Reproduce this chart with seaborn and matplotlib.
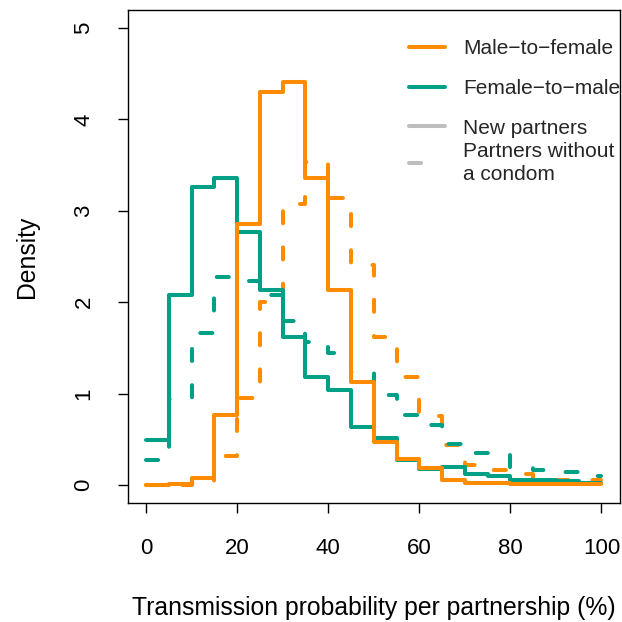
import numpy as np
import pandas as pd
import matplotlib
matplotlib.use("Agg")
import matplotlib.pyplot as plt
from matplotlib.lines import Line2D
import seaborn as sns

# Histogram bins (transmission probability, %)
bin_edges = [0, 5, 10, 15, 20, 25, 30, 35, 40, 45, 50,
             55, 60, 65, 70, 75, 80, 85, 90, 95, 100]

# Density per bin for each direction / partnership type
mtf_new = [0.00, 0.01, 0.08, 0.77, 2.86, 4.30, 4.41, 3.36, 2.13, 1.13,
           0.47, 0.29, 0.19, 0.06, 0.025, 0.02, 0.01, 0.01, 0.01, 0.01]
mtf_nocondom = [0.00, 0.00, 0.02, 0.32, 0.95, 2.00, 3.07, 3.53, 3.14, 2.41,
                1.62, 1.18, 0.75, 0.44, 0.22, 0.16, 0.12, 0.06, 0.05, 0.05]
ftm_new = [0.49, 2.08, 3.26, 3.36, 2.77, 2.13, 1.62, 1.18, 1.04, 0.64,
           0.51, 0.27, 0.18, 0.20, 0.12, 0.10, 0.055, 0.05, 0.04, 0.02]
ftm_nocondom = [0.27, 0.94, 1.66, 2.28, 2.23, 2.08, 1.80, 1.56, 1.44, 1.24,
                0.98, 0.77, 0.66, 0.45, 0.35, 0.35, 0.20, 0.17, 0.145, 0.10]

x_ticks = [0, 20, 40, 60, 80, 100]
y_ticks = [0, 1, 2, 3, 4, 5]

legend_labels = ["Male\u2212to\u2212female", "Female\u2212to\u2212male",
                 "New partners", "Partners without\na condom"]

ORANGE = "#FF8C00"
GREEN = "#00A087"
GREY = "#BEBEBE"

sns.set_theme(style="white")
plt.rcParams["font.family"] = ["Liberation Sans", "DejaVu Sans"]

fig = plt.figure(figsize=(6.22, 6.22), dpi=100)
ax = fig.add_axes([0.2055, 0.1908, 0.7908, 0.7936])

centers = (np.array(bin_edges[:-1]) + np.array(bin_edges[1:])) / 2
lw = 2.9
dash = (3, 6)

series = [
    (mtf_nocondom, ORANGE, True),
    (ftm_nocondom, GREEN, True),
    (ftm_new, GREEN, False),
    (mtf_new, ORANGE, False),
]
for vals, col, dashed in series:
    df = pd.DataFrame({"x": centers, "w": vals})
    kw = dict(linewidth=lw, solid_capstyle="round", solid_joinstyle="round",
              dash_capstyle="round", dash_joinstyle="round")
    if dashed:
        kw["dashes"] = dash
    sns.histplot(data=df, x="x", weights="w", bins=bin_edges, stat="count",
                 element="step", fill=False, color=col, ax=ax, **kw)

ax.set_xlim(-4, 104)
ax.set_ylim(-0.2, 5.2)
ax.set_xticks(x_ticks)
ax.set_yticks(y_ticks)
ax.set_xticklabels([str(v) for v in x_ticks], fontsize=16)
ax.set_yticklabels([str(v) for v in y_ticks], fontsize=16, rotation=90,
                   va="center")
ax.tick_params(axis="both", direction="out", length=7, width=1,
               color="black", labelcolor="black", bottom=True, left=True)
ax.tick_params(axis="x", pad=18)
ax.tick_params(axis="y", pad=17)

for s in ax.spines.values():
    s.set_visible(True)
    s.set_color("black")
    s.set_linewidth(1.0)

ax.set_xlabel("Transmission probability per partnership (%)", fontsize=17.8,
              color="black")
ax.set_ylabel("Density", fontsize=17.8, color="black")
ax.xaxis.set_label_coords(0.5005, -0.1875)
ax.yaxis.set_label_coords(-0.1815, 0.5)

# Legend: colour key and line-type key
leg_kw = dict(frameon=False, fontsize=15, handlelength=1.73,
              handletextpad=0.85, borderaxespad=0.0, borderpad=0.0)
handles_a = [
    Line2D([], [], color=ORANGE, lw=lw, solid_capstyle="round"),
    Line2D([], [], color=GREEN, lw=lw, solid_capstyle="round"),
    Line2D([], [], color=GREY, lw=lw, solid_capstyle="round"),
]
leg_a = ax.legend(handles_a, legend_labels[:3], loc="upper left",
                  bbox_to_anchor=(0.5717, 0.9407), labelspacing=1.0,
                  **leg_kw)
ax.add_artist(leg_a)
handles_b = [Line2D([], [], color=GREY, lw=lw, dashes=(3, 12),
                    dash_capstyle="round")]
leg_b = ax.legend(handles_b, legend_labels[3:], loc="center left",
                  bbox_to_anchor=(0.5717, 0.6894), **leg_kw)
for t in leg_b.get_texts():
    t.set_linespacing(1.3)

fig.savefig("out.png", dpi=100)
